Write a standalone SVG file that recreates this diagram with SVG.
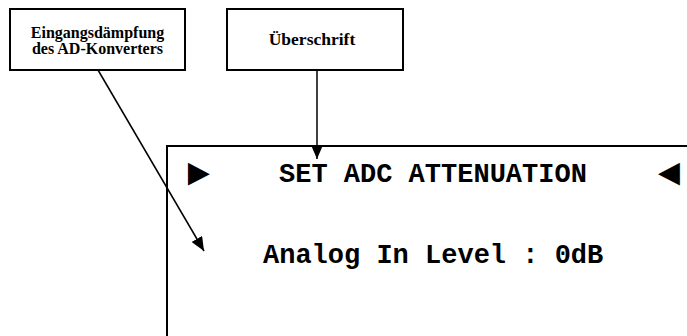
<svg xmlns="http://www.w3.org/2000/svg" width="687" height="336" viewBox="0 0 687 336">
<defs>
<style>
.box{fill:#fff;stroke:#000;stroke-width:2}
.lbl{font-family:"Liberation Serif","Times New Roman",serif;font-weight:bold;fill:#000;text-anchor:middle}
.mono{font-family:"Liberation Mono","Courier New",monospace;font-weight:bold;fill:#000;font-size:27px}
.tri{font-family:"Liberation Mono","Courier New",monospace;font-weight:bold;fill:#000;font-size:38px}
.conn{stroke:#000;stroke-width:1.5;fill:none}
</style>
<marker id="arr" viewBox="0 0 14 12" refX="14" refY="6" markerWidth="14" markerHeight="12" markerUnits="userSpaceOnUse" orient="auto">
<path d="M0,0 L14,6 L0,12 Z" fill="#000"/>
</marker>
</defs>
<rect width="687" height="336" fill="#fff"/>
<g id="display">
<path d="M167,336 L167,146 L690,146" fill="none" stroke="#000" stroke-width="2"/>
<text class="tri" x="187" y="184.5">►</text>
<text class="mono" x="279" y="182">SET ADC ATTENUATION</text>
<text class="tri" x="658" y="184.5">◄</text>
<text class="mono" x="263" y="263">Analog In Level : 0dB</text>
</g>
<g id="node-eingang">
<rect class="box" x="10" y="9" width="175" height="61"/>
<text class="lbl" x="97.5" y="38" font-size="16">Eingangsdämpfung</text>
<text class="lbl" x="97.5" y="54" font-size="16">des AD-Konverters</text>
</g>
<g id="node-ueberschrift">
<rect class="box" x="227" y="9" width="176" height="61"/>
<text class="lbl" x="312" y="45" font-size="17.5">Überschrift</text>
</g>
<g id="connectors">
<line class="conn" x1="98" y1="70" x2="204" y2="251" marker-end="url(#arr)"/>
<line class="conn" x1="317" y1="70" x2="317" y2="159" marker-end="url(#arr)"/>
</g>
</svg>
